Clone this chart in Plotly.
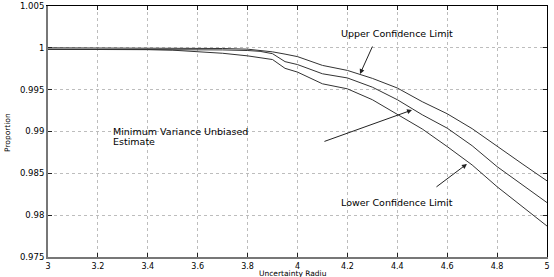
import plotly.graph_objects as go

radius = [3.0, 3.2, 3.4, 3.5, 3.6, 3.7, 3.8, 3.85, 3.9, 3.95, 4.0, 4.1, 4.2, 4.3, 4.4, 4.5, 4.6, 4.7, 4.8, 4.9, 5.0]
upper = [1.0000, 1.0000, 1.0000, 0.99996, 0.99995, 0.99992, 0.99984, 0.99972, 0.99952, 0.99925, 0.99895,
         0.99790, 0.99730, 0.99635, 0.99520, 0.99356, 0.99212, 0.99034, 0.98820, 0.98615, 0.98410]
middle = [0.99982, 0.99982, 0.99982, 0.99982, 0.99980, 0.99975, 0.99968, 0.99958, 0.99930, 0.99835, 0.99800,
          0.99690, 0.99640, 0.99530, 0.99380, 0.99200, 0.99040, 0.98830, 0.98580, 0.98360, 0.98150]
lower = [0.99982, 0.99982, 0.99980, 0.99972, 0.99958, 0.99935, 0.99904, 0.99885, 0.99860, 0.99755, 0.99710,
         0.99570, 0.99510, 0.99380, 0.99200, 0.99030, 0.98820, 0.98600, 0.98340, 0.98100, 0.97870]

xticks = [3, 3.2, 3.4, 3.6, 3.8, 4, 4.2, 4.4, 4.6, 4.8, 5]
xticklabels = ["3", "3.2", "3.4", "3.6", "3.8", "4", "4.2", "4.4", "4.6", "4.8", "5"]
yticks = [0.975, 0.98, 0.985, 0.99, 0.995, 1.0, 1.005]
yticklabels = ["0.975", "0.98", "0.985", "0.99", "0.995", "1", "1.005"]

FONT = "DejaVu Sans"
LINE = "#333333"

fig = go.Figure()
for name, ys in [("Upper", upper), ("Middle", middle), ("Lower", lower)]:
    fig.add_trace(go.Scatter(x=radius, y=ys, mode="lines", name=name,
                             line=dict(color=LINE, width=1), showlegend=False))

# invisible trace for mirrored axes
fig.add_trace(go.Scatter(x=[3, 5], y=[0.975, 1.005], xaxis="x2", yaxis="y2",
                         mode="markers", marker=dict(opacity=0), showlegend=False, hoverinfo="skip"))

axis_common = dict(ticks="inside", ticklen=4, tickcolor="#222", tickwidth=1, automargin=False,
                   tickfont=dict(family=FONT, size=8.5, color="black"))

fig.update_layout(
    width=554, height=277,
    margin=dict(l=48, r=7, t=6, b=20, autoexpand=False),
    paper_bgcolor="white", plot_bgcolor="white",
    xaxis=dict(range=[3, 5], tickvals=xticks, ticktext=xticklabels,
               showgrid=True, gridcolor="#bdbdbd", griddash="dot", gridwidth=1,
               showline=True, linecolor="#777777", linewidth=2, zeroline=False, **axis_common),
    yaxis=dict(range=[0.975, 1.005], tickvals=yticks, ticktext=yticklabels,
               showgrid=True, gridcolor="#bdbdbd", griddash="dot", gridwidth=1,
               showline=True, linecolor="#777777", linewidth=2, zeroline=False, **axis_common),
    xaxis2=dict(range=[3, 5], overlaying="x", side="top", tickvals=xticks, showticklabels=False,
                showgrid=False, showline=True, linecolor="black", linewidth=1, zeroline=False,
                ticks="inside", ticklen=4, tickcolor="#222", automargin=False),
    yaxis2=dict(range=[0.975, 1.005], overlaying="y", side="right", tickvals=yticks, showticklabels=False,
                showgrid=False, showline=True, linecolor="black", linewidth=1, zeroline=False,
                ticks="inside", ticklen=4, tickcolor="#222", automargin=False),
)
fig.update_xaxes(tickfont=dict(family=FONT, size=8, color="black"), selector=dict(side="bottom"))
fig.layout.xaxis.tickfont = dict(family=FONT, size=8, color="black")

ann_font = dict(family=FONT, size=9.5, color="black")
annotations = [
    dict(x=4.399, y=1.00177, text="Upper Confidence Limit", showarrow=False, font=ann_font,
         xanchor="center", yanchor="middle"),
    dict(x=3.2525, y=0.99005, text="Minimum Variance Unbiased", showarrow=False, font=ann_font,
         xanchor="left", yanchor="middle"),
    dict(x=3.2525, y=0.98886, text="Estimate", showarrow=False, font=ann_font,
         xanchor="left", yanchor="middle"),
    dict(x=4.399, y=0.98149, text="Lower Confidence Limit", showarrow=False, font=ann_font,
         xanchor="center", yanchor="middle"),
    # arrows
    dict(x=4.2505, y=0.99687, ax=4.303, ay=1.00034, axref="x", ayref="y", text="",
         showarrow=True, arrowhead=2, arrowsize=1, arrowwidth=1, arrowcolor="#222"),
    dict(x=4.459, y=0.99257, ax=4.102, ay=0.98875, axref="x", ayref="y", text="",
         showarrow=True, arrowhead=2, arrowsize=1, arrowwidth=1, arrowcolor="#222"),
    dict(x=4.679, y=0.98612, ax=4.551, ay=0.98325, axref="x", ayref="y", text="",
         showarrow=True, arrowhead=2, arrowsize=1, arrowwidth=1, arrowcolor="#222"),
    # axis titles
    dict(x=0.49, y=-0.0665, xref="paper", yref="paper", text="Uncertainty Radiu", showarrow=False,
         font=dict(family=FONT, size=7.5, color="black"), xanchor="center", yanchor="middle"),
    dict(x=-0.0822, y=0.498, xref="paper", yref="paper", text="Proportion", showarrow=False,
         textangle=-90, font=dict(family=FONT, size=7.5, color="black"), xanchor="center", yanchor="middle"),
]
fig.update_layout(annotations=annotations)

fig.write_html("out.html", config={"displayModeBar": False},
               post_script="document.body.style.margin='0';document.body.style.padding='0';")
